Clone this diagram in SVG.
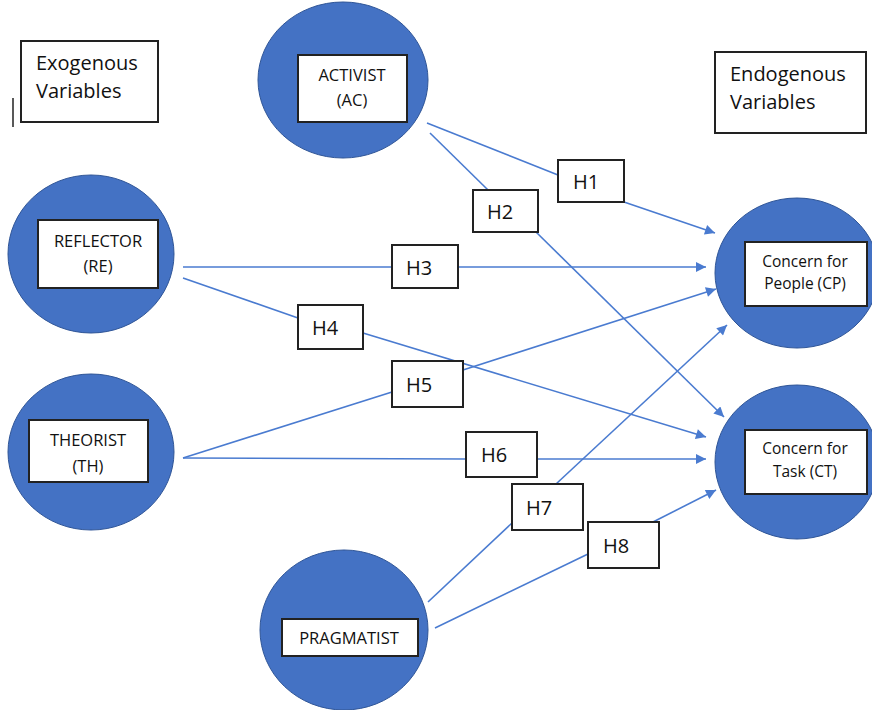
<svg xmlns="http://www.w3.org/2000/svg" width="872" height="710" viewBox="0 0 872 710">
<defs>
<style>
.c{fill:#4472C4;stroke:#2F5597;stroke-width:1}
.b{fill:#fff;stroke:#222;stroke-width:2}
.t{font-family:"Open Sans","Liberation Sans",sans-serif;fill:#111;text-anchor:middle}
.n{font-size:16.5px}
.m{font-size:15.5px}
.h{font-size:20px}
.l{font-size:20px;text-anchor:start}
.e{stroke:#4A7BD0;stroke-width:1.6;fill:none}
</style>
<marker id="a" viewBox="0 0 10 10" refX="10" refY="5" markerWidth="11" markerHeight="10" markerUnits="userSpaceOnUse" orient="auto">
<path d="M0,0L10,5L0,10z" fill="#4A7BD0"/>
</marker>
</defs>
<rect width="872" height="710" fill="#fff"/>
<line x1="13" y1="98" x2="13" y2="127" stroke="#222" stroke-width="1.5"/>
<g id="exogenous">
<rect class="b" x="21" y="41" width="137" height="81"/>
<text class="t l" x="36" y="70">Exogenous</text>
<text class="t l" x="36" y="98">Variables</text>
</g>
<g id="endogenous">
<rect class="b" x="715" y="52" width="151" height="81"/>
<text class="t l" x="730" y="81">Endogenous</text>
<text class="t l" x="730" y="109">Variables</text>
</g>
<g id="connectors">
<polyline class="e" points="427,123 558,175"/>
<polyline class="e" points="624,202 715,233" marker-end="url(#a)"/>
<polyline class="e" points="430,133 488,190"/>
<polyline class="e" points="536,232 724,417" marker-end="url(#a)"/>
<polyline class="e" points="183,267 392,267"/>
<polyline class="e" points="458,267 706,267" marker-end="url(#a)"/>
<polyline class="e" points="183,278 298,318"/>
<polyline class="e" points="363,333 706,437" marker-end="url(#a)"/>
<polyline class="e" points="183,458 392,392"/>
<polyline class="e" points="463,370 716,289" marker-end="url(#a)"/>
<polyline class="e" points="183,458 466,459"/>
<polyline class="e" points="537,459 706,459" marker-end="url(#a)"/>
<polyline class="e" points="428,602 512,523"/>
<polyline class="e" points="556,484 727,325" marker-end="url(#a)"/>
<polyline class="e" points="435,628 588,554"/>
<polyline class="e" points="653,522 716,490" marker-end="url(#a)"/>
</g>
<g id="activist">
<ellipse class="c" cx="343" cy="80" rx="85" ry="78"/>
<rect class="b" x="298" y="55" width="109" height="67"/>
<text class="t n" x="352" y="81">ACTIVIST</text>
<text class="t n" x="352" y="106">(AC)</text>
</g>
<g id="reflector">
<ellipse class="c" cx="91" cy="254" rx="83" ry="79"/>
<rect class="b" x="38" y="220" width="120" height="68"/>
<text class="t n" x="98" y="247">REFLECTOR</text>
<text class="t n" x="98" y="272">(RE)</text>
</g>
<g id="theorist">
<ellipse class="c" cx="91" cy="452" rx="83" ry="78"/>
<rect class="b" x="29" y="420" width="119" height="62"/>
<text class="t n" x="88" y="446">THEORIST</text>
<text class="t n" x="88" y="472">(TH)</text>
</g>
<g id="pragmatist">
<ellipse class="c" cx="344" cy="630" rx="84" ry="80"/>
<rect class="b" x="282" y="619" width="136" height="37"/>
<text class="t n" x="349" y="644">PRAGMATIST</text>
</g>
<g id="cp">
<ellipse class="c" cx="797" cy="273" rx="82" ry="75"/>
<rect class="b" x="745" y="242" width="122" height="64"/>
<text class="t m" x="805" y="267">Concern for</text>
<text class="t m" x="805" y="289">People (CP)</text>
</g>
<g id="ct">
<ellipse class="c" cx="797" cy="462" rx="82" ry="77"/>
<rect class="b" x="745" y="430" width="122" height="64"/>
<text class="t m" x="805" y="454">Concern for</text>
<text class="t m" x="805" y="477">Task (CT)</text>
</g>
<g id="h1"><rect class="b" x="558" y="160" width="66" height="42"/><text class="t h" x="586" y="189">H1</text></g>
<g id="h2"><rect class="b" x="473" y="190" width="65" height="42"/><text class="t h" x="500" y="219">H2</text></g>
<g id="h3"><rect class="b" x="392" y="245" width="66" height="43"/><text class="t h" x="419" y="275">H3</text></g>
<g id="h4"><rect class="b" x="298" y="305" width="65" height="44"/><text class="t h" x="325" y="335">H4</text></g>
<g id="h5"><rect class="b" x="392" y="361" width="71" height="46"/><text class="t h" x="419" y="392">H5</text></g>
<g id="h6"><rect class="b" x="466" y="432" width="71" height="45"/><text class="t h" x="494" y="462">H6</text></g>
<g id="h7"><rect class="b" x="512" y="484" width="71" height="46"/><text class="t h" x="539" y="515">H7</text></g>
<g id="h8"><rect class="b" x="588" y="522" width="71" height="46"/><text class="t h" x="616" y="553">H8</text></g>
</svg>
